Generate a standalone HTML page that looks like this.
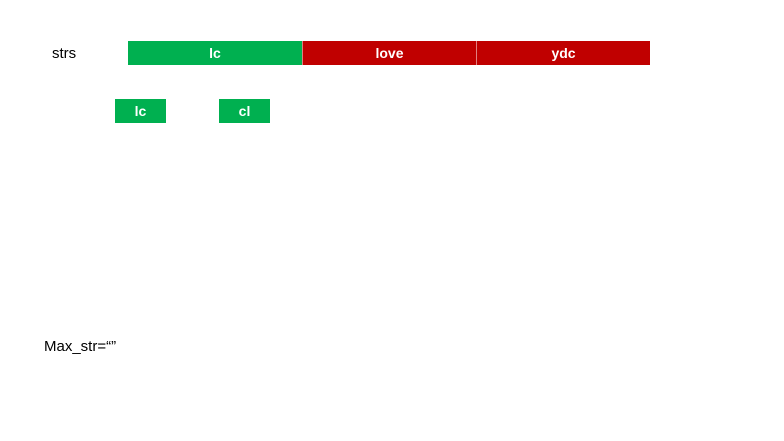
<!DOCTYPE html>
<html><head><style>
body{margin:0;width:784px;height:441px;background:#fff;position:relative;overflow:hidden;font-family:"Liberation Sans",Arial,sans-serif}
.b{position:absolute;color:#fff;font-weight:bold;font-size:14px;display:flex;align-items:center;justify-content:center;box-sizing:border-box}
.g{background:#00b050}.r{background:#c00000}
.t{position:absolute;font-size:15px;color:#000}
</style></head><body>
<div class="t" style="left:52px;top:45px">strs</div>
<div class="b g" style="left:128px;top:41px;width:174px;height:24px">lc</div>
<div class="b r" style="left:302px;top:41px;width:174px;height:24px;border-left:1px solid #e08080">love</div>
<div class="b r" style="left:476px;top:41px;width:174px;height:24px;border-left:1px solid #e08080">ydc</div>
<div class="b g" style="left:115px;top:99px;width:51px;height:24px">lc</div>
<div class="b g" style="left:219px;top:99px;width:51px;height:24px">cl</div>
<div class="t" style="left:44px;top:338px">Max_str=“”</div>
</body></html>
